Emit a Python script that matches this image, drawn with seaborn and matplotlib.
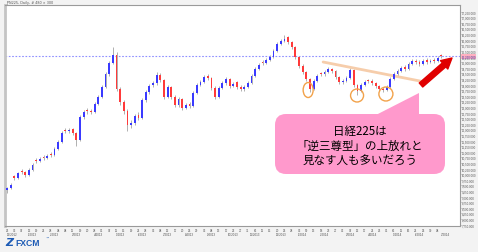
import numpy as np
import pandas as pd
import matplotlib
matplotlib.use("Agg")
import matplotlib.pyplot as plt
from matplotlib.patches import FancyBboxPatch, Polygon, Ellipse
from matplotlib.transforms import Affine2D, blended_transform_factory
import seaborn as sns

# ---------------- data ----------------
opens = [9300, 9400, 9900, 9830, 10150, 10100, 9970, 10190, 10650, 10590,
         10780, 10730, 10900, 10860, 11130, 11440, 11990, 11930, 12000, 11840,
         11530, 12550, 12880, 12820, 12780, 13130, 13450, 13890, 14470, 14960,
         15320, 13800, 13220, 12820, 12200, 12290, 12650, 12510, 13310, 13670,
         13990, 14070, 14430, 14200, 13450, 13890, 13450, 13090, 13360, 12960,
         13150, 13040, 13620, 13980, 14110, 14400, 14290, 13850, 13450, 13850,
         14070, 14250, 13940, 14100, 13890, 13800, 13890, 14070, 14380, 14690,
         15000, 14960, 15100, 15230, 15500, 15810, 15940, 16100, 15900, 15680,
         15230, 14830, 14560, 14250, 13800, 14160, 14500, 14470, 14560, 14690,
         14610, 14340, 14110, 14160, 14290, 14650, 13980, 13710, 13980, 14200,
         14160, 14070, 13940, 13800, 13760, 13890, 14250, 14470, 14610, 14800,
         14690, 14920, 15050, 15010, 14920, 15100, 15010, 15100, 15050, 15300]
closes = [9390, 9520, 9830, 10060, 10100, 9970, 10190, 10410, 10590, 10680,
          10730, 10810, 10860, 11130, 11440, 11840, 11930, 11970, 11840, 11530,
          12550, 12780, 12820, 12780, 13130, 13450, 13890, 14470, 14960, 15320,
          13800, 13220, 12820, 12200, 12290, 12600, 12510, 13310, 13670, 13940,
          14070, 14430, 14200, 13450, 13890, 13450, 13090, 13360, 12960, 13090,
          13040, 13620, 13980, 14110, 14340, 14290, 13850, 13450, 13850, 14070,
          14250, 13940, 14030, 13890, 13800, 13890, 14070, 14380, 14690, 14870,
          14960, 15100, 15230, 15500, 15810, 15940, 16030, 15900, 15680, 15230,
          14830, 14560, 14250, 13800, 14160, 14380, 14470, 14560, 14690, 14610,
          14340, 14110, 14160, 14290, 14650, 13980, 13710, 13980, 14110, 14160,
          14070, 13940, 13800, 13760, 13890, 14250, 14470, 14610, 14740, 14690,
          14920, 15050, 15010, 14920, 15050, 15010, 15050, 15050, 15190, 15260]
highs = [9450, 9600, 9980, 10120, 10230, 10160, 10260, 10480, 10720, 10760,
         10850, 10900, 10980, 11210, 11510, 11920, 12080, 12060, 12080, 11900,
         12640, 12860, 12950, 12900, 13210, 13530, 13970, 14560, 15050, 15680,
         15450, 13900, 13300, 12900, 12420, 12680, 12760, 13380, 13750, 14010,
         14150, 14560, 14500, 14260, 13970, 13950, 13530, 13440, 13420, 13180,
         13230, 13700, 14060, 14190, 14420, 14470, 14350, 13920, 13930, 14150,
         14330, 14310, 14110, 14170, 13960, 13970, 14150, 14460, 14770, 14950,
         15080, 15180, 15310, 15580, 15890, 16020, 16200, 16180, 15960, 15740,
         15290, 14900, 14620, 14310, 14240, 14460, 14580, 14640, 14780, 14760,
         14670, 14400, 14240, 14370, 14730, 14710, 14040, 14060, 14190, 14270,
         14230, 14130, 14000, 13870, 13970, 14330, 14550, 14690, 14820, 14870,
         15000, 15130, 15120, 15080, 15130, 15170, 15130, 15170, 15270, 15380]
lows = [9150, 9330, 9760, 9780, 10020, 9880, 9920, 10130, 10500, 10530,
        10640, 10660, 10780, 10800, 11060, 11380, 11850, 11860, 11760, 11250,
        11500, 12480, 12700, 12690, 12720, 13070, 13400, 13830, 14400, 14900,
        13700, 13100, 12700, 11950, 12050, 12200, 12400, 12460, 13240, 13600,
        13900, 14000, 14120, 13350, 13400, 13350, 12980, 13010, 12860, 12900,
        12950, 12990, 13560, 13920, 14050, 14200, 13750, 13350, 13380, 13790,
        14000, 13850, 13870, 13800, 13700, 13730, 13830, 14010, 14320, 14630,
        14880, 14900, 15040, 15170, 15440, 15750, 15880, 15820, 15590, 15130,
        14730, 14470, 14150, 13650, 13740, 14100, 14390, 14400, 14500, 14530,
        14250, 14020, 14040, 14100, 14230, 13880, 13550, 13650, 13920, 14080,
        13990, 13850, 13720, 13650, 13700, 13830, 14190, 14400, 14550, 14610,
        14630, 14860, 14930, 14840, 14860, 14930, 14950, 14970, 14990, 15180]

price_ticks = list(range(17250, 7749, -250))
day_labels = ["26", "03", "07", "12", "19", "21", "28", "04", "08", "11",
              "19", "20", "28", "01", "07", "11", "15", "19", "21", "28",
              "03", "08", "12", "17", "20", "25", "29", "03", "08", "13",
              "17", "22", "27", "31", "06", "11", "15", "20", "25", "28",
              "03", "09", "13", "18", "23", "27", "02", "07", "12", "17",
              "21", "26", "01", "06", "11", "16", "21", "25", "30", "04"]
month_labels = ["12/2012", "1/2013", "2/2013", "3/2013", "4/2013", "5/2013",
                "6/2013", "7/2013", "8/2013", "9/2013", "10/2013", "11/2013",
                "12/2013", "1/2014", "2/2014", "3/2014", "4/2014", "5/2014",
                "6/2014", "7/2014"]
month_pos = [0, 7, 13, 19, 25, 31, 37, 44, 50, 56, 62, 68, 75, 81, 87, 94,
             100, 107, 113, 120]

# pattern annotations (neckline + shoulders/head)
neck_x = [86.6, 114.5]
neck_y = [15006, 14114]
circle_x = [82.5, 95.9, 103.8]
circle_y = [13757, 13512, 13579]

bubble_lines = ["日経225は", "「逆三尊型」の上放れと", "見なす人も多いだろう"]

# ---------------- figure ----------------
W, H = 478, 253
sns.set_theme(style="white")
plt.rcParams['font.family'] = ['DejaVu Sans']

fig = plt.figure(figsize=(W / 100, H / 100), dpi=100, facecolor="#f3f3f3")
ax = fig.add_axes([5 / W, 26 / H, 455 / W, 221 / H])
ax.set_facecolor("white")

df = pd.DataFrame({"o": opens, "h": highs, "l": lows, "c": closes})
df["i"] = np.arange(len(df))
up = df["c"] >= df["o"]

ax.vlines(df["i"], df["l"], df["h"], color="#b0b0b0", lw=0.7, zorder=2)
ax.bar(df["i"][up], (df["c"] - df["o"])[up], bottom=df["o"][up], width=0.5,
       color="#3a3aff", lw=0, zorder=3)
ax.bar(df["i"][~up], (df["o"] - df["c"])[~up], bottom=df["c"][~up], width=0.5,
       color="#ff3a3a", lw=0, zorder=3)

# current price dotted line
last = closes[-1]
ax.axhline(last, color="#8f8fff", lw=0.8, ls=(0, (1.5, 1.5)), zorder=1)

# neckline
sns.lineplot(x=neck_x, y=neck_y, ax=ax, color="#f5c8a2", lw=2, alpha=0.9,
             zorder=2)
# circles
for cx, cy, w, hgt in zip(circle_x, circle_y, [2.74, 3.56, 3.84], [669, 580, 624]):
    ax.add_patch(Ellipse((cx, cy), w, hgt, fill=False, ec="#f2a24a", lw=1.0,
                         zorder=4))

ax.set_xlim(-0.55, 124.1)
ax.set_ylim(7692, 17548)

# y axis on the right
small = ["Liberation Sans", "DejaVu Sans"]
ax.yaxis.tick_right()
ax.set_yticks(price_ticks)
ax.set_yticklabels([f"{v:,.3f}" for v in price_ticks], fontsize=2.1,
                   color="#555555", family=small)
ax.tick_params(axis="y", length=1.0, width=0.4, pad=0.5, colors="#777777",
               labelcolor="#555555")
# highlighted current price label
ax.text(1.003, last, f"{last:,.3f}", transform=blended_transform_factory(
    ax.transAxes, ax.transData), fontsize=2.1, color="#3030a0", va="center",
    ha="left", family=small, bbox=dict(fc="#ffb0c0", ec="none", pad=0.3),
    zorder=6, clip_on=False)

# x axis labels
ax.set_xticks(np.arange(0, 120, 2))
ax.set_xticklabels(day_labels, fontsize=2.2, color="#555555", family=small)
ax.tick_params(axis="x", length=1.2, width=0.4, pad=0.6, colors="#777777",
               labelcolor="#555555")
trans_x = blended_transform_factory(ax.transData, ax.transAxes)
for p, lab in zip(month_pos, month_labels):
    ax.text(p, -0.034, lab, transform=trans_x, fontsize=2.2, color="#555555",
            family=small, ha="left" if p == 0 else "center", va="center",
            clip_on=False)

for s in ["top", "bottom", "right"]:
    ax.spines[s].set_color("#9a9a9a")
    ax.spines[s].set_linewidth(0.8)
ax.spines["left"].set_color("#c4c4c4")
ax.spines["left"].set_linewidth(2.0)

# pixel transform (top-left origin)
T = Affine2D().scale(1, -1).translate(0, H)

fig.text(6, 3.5, "JPN225, Daily, # 480 × 300", transform=T, fontsize=2.4,
         color="#555555", va="center", ha="left")

# red arrow
ax.annotate("", xy=(452, H - 59), xytext=(421, H - 86),
            xycoords="figure pixels", textcoords="figure pixels",
            arrowprops=dict(arrowstyle="simple,head_length=0.75,head_width=0.8,tail_width=0.38",
                            color="#e00000", shrinkA=0, shrinkB=0,
                            mutation_scale=10), zorder=7)

# speech bubble
pink = "#ff99cc"
fig.add_artist(Polygon([(372, 118), (419, 94), (419, 118)], closed=True,
                       transform=T, fc=pink, ec="none", zorder=5))
fig.add_artist(FancyBboxPatch((275, 115), 170, 60,
                              boxstyle="round,pad=0,rounding_size=11",
                              transform=T, fc=pink, ec="none", zorder=5))
for k, line in enumerate(bubble_lines):
    fig.text(360, 132 + 14 * k, line, transform=T, fontsize=8.3,
             family=["Noto Sans CJK JP", "DejaVu Sans"], color="black",
             ha="center", va="center", zorder=6)

# FXCM logo
fig.text(5, 243.5, "Z", transform=T, fontsize=8, fontweight="bold",
         fontstyle="italic", color="#1d5bb5", va="center", ha="left",
         family=["DejaVu Sans"])
fig.text(15, 243.5, "FXCM", transform=T, fontsize=6.2, fontweight="bold",
         color="#1d5bb5", va="center", ha="left", family=["Liberation Sans"])
fig.text(45, 239, "™", transform=T, fontsize=2.8, color="#1d5bb5",
         va="center", ha="left")

fig.savefig("out.png", dpi=100, facecolor=fig.get_facecolor())
